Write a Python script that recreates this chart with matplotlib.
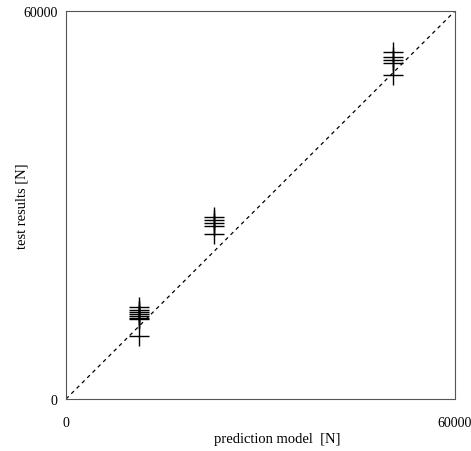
import matplotlib
matplotlib.use("Agg")
import matplotlib.pyplot as plt

# data
pred_1 = [11300] * 8
test_1 = [14200, 13800, 13500, 13150, 12850, 12600, 12350, 9750]
pred_2 = [22800] * 5
test_2 = [28150, 27700, 27250, 26800, 25500]
pred_3 = [50400] * 5
test_3 = [53650, 52900, 52400, 51950, 50100]
diag = [0, 60000]
ticks = [0, 60000]
tick_labels = ["0", "60000"]

fig = plt.figure(figsize=(4.71, 4.52), dpi=100)
ax = fig.add_axes([66/471, 52/452, 389/471, 388/452])
plt.rcParams['font.family'] = ['Liberation Serif', 'DejaVu Serif']

ax.plot(diag, diag, linestyle=(0, (3, 3)), color='black', linewidth=0.9)
for px, ty in [(pred_1, test_1), (pred_2, test_2), (pred_3, test_3)]:
    ax.plot(px, ty, linestyle='none', marker='+', markersize=14,
            markeredgewidth=1.0, color='black')

ax.set_xlim(0, 60000)
ax.set_ylim(0, 60000)
ax.set_xticks(ticks)
ax.set_yticks(ticks)
ax.set_xticklabels(tick_labels, family=['Liberation Serif'], fontsize=10)
ax.set_yticklabels(tick_labels, family=['Liberation Serif'], fontsize=10)
ax.tick_params(length=0, pad=12)
ax.tick_params(axis='y', pad=6)
for s in ax.spines.values():
    s.set_color('#555555')
    s.set_linewidth(0.8)

fig.text(277/471, 1 - 440/452, "prediction model  [N]", ha='center', va='center',
         family=['Liberation Serif'], fontsize=10.5)
fig.text(22/471, 1 - 206/452, "test results [N]", ha='center', va='center',
         rotation=90, family=['Liberation Serif'], fontsize=10.5)

fig.savefig("out.png", dpi=100)
